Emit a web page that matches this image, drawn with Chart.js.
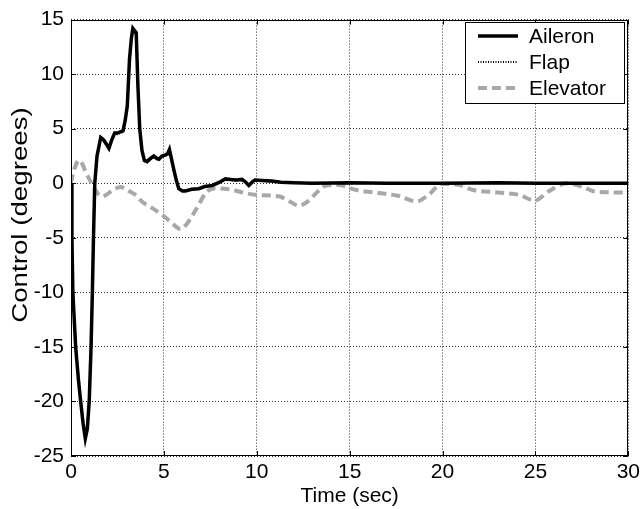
<!DOCTYPE html>
<html>
<head>
<meta charset="utf-8">
<script src="https://cdn.jsdelivr.net/npm/chart.js@4"></script>
<style>
  body { margin: 0; background: #fff; }
  #wrap { width: 644px; height: 509px; }
</style>
</head>
<body>
<div id="wrap"><canvas id="chart1"></canvas></div>
<script>
// control surface deflections vs time

var aileronTime = [0, 0.05, 0.1, 0.25, 0.4, 0.52, 0.65, 0.77, 0.88, 0.98, 1.08, 1.15, 1.21, 1.28, 1.4, 1.6, 1.75, 1.9, 2.04, 2.2, 2.35, 2.5, 2.65, 2.8, 2.92, 3.03, 3.15, 3.25, 3.33, 3.42, 3.51, 3.6, 3.7, 3.82, 3.95, 4.1, 4.3, 4.46, 4.6, 4.73, 4.9, 5.09, 5.2, 5.3, 5.4, 5.54, 5.68, 5.8, 6.0, 6.16, 6.5, 6.88, 7.2, 7.6, 8.0, 8.3, 8.6, 8.9, 9.2, 9.4, 9.57, 9.75, 9.9, 10.3, 10.8, 11.3, 12, 13, 15, 17, 20, 23, 25, 27, 30];
var aileron = [0, -5, -10, -15, -18, -20, -22, -23.4, -22.5, -20, -15, -10, -5, 0, 2.5, 4.2, 4.0, 3.6, 3.2, 4.0, 4.6, 4.6, 4.7, 4.8, 5.8, 7.1, 11.4, 13.3, 14.2, 14.0, 13.8, 9.0, 5.0, 3.0, 2.1, 2.0, 2.3, 2.5, 2.3, 2.2, 2.5, 2.6, 2.7, 3.1, 2.3, 1.2, 0.2, -0.5, -0.7, -0.7, -0.55, -0.5, -0.3, -0.2, 0.1, 0.4, 0.35, 0.3, 0.35, 0.1, -0.2, 0.1, 0.3, 0.25, 0.2, 0.1, 0.05, 0, 0.05, 0, 0, 0.05, 0, 0, 0];
var flap = [0, -4.6, -9.5, -14.6, -17.6, -19.8, -21.7, -23.0, -22.2, -19.6, -14.7, -9.8, -4.8, 0, 2.4, 4.1, 3.9, 3.5, 3.1, 3.9, 4.5, 4.5, 4.6, 4.7, 5.6, 6.9, 11.1, 13.0, 13.9, 13.8, 13.5, 8.8, 4.9, 2.9, 2.0, 1.9, 2.2, 2.4, 2.2, 2.1, 2.4, 2.5, 2.6, 3.0, 2.2, 1.1, 0.2, -0.45, -0.65, -0.65, -0.5, -0.45, -0.3, -0.2, 0.1, 0.35, 0.3, 0.25, 0.3, 0.1, -0.15, 0.1, 0.25, 0.2, 0.15, 0.1, 0.05, 0, 0, 0, 0, 0, 0, 0, 0];

var elevatorTime = [0, 0.07, 0.2, 0.43, 0.6, 0.8, 1.06, 1.3, 1.5, 1.68, 1.86, 2.2, 2.67, 3.1, 3.5, 3.83, 4.3, 4.91, 5.4, 5.9, 6.2, 6.52, 6.9, 7.24, 7.78, 8.2, 8.67, 9.03, 9.93, 11.18, 11.8, 12.26, 12.8, 13.2, 13.69, 14.4, 15.3, 16.56, 17.6, 18.6, 19.25, 19.96, 20.86, 21.6, 23, 24.1, 24.98, 25.7, 26.68, 27.5, 28.2, 30];
var elevator = [0, 0.6, 1.4, 2.1, 1.8, 1.0, 0.15, -0.6, -1.06, -1.2, -1.1, -0.7, -0.35, -0.7, -1.1, -1.7, -2.2, -2.9, -3.6, -4.2, -3.8, -3.0, -1.9, -0.9, -0.45, -0.5, -0.6, -0.75, -1.06, -1.2, -1.7, -2.06, -1.6, -0.9, -0.24, -0.15, -0.6, -0.9, -1.15, -1.67, -1.06, -0.06, -0.15, -0.6, -0.85, -1.06, -1.58, -0.76, 0, -0.3, -0.76, -0.85];

var xTicks = [0, 5, 10, 15, 20, 25, 30];
var yTicks = [-25, -20, -15, -10, -5, 0, 5, 10, 15];
var seriesNames = ['Aileron', 'Flap', 'Elevator'];

var FONT = '"Liberation Sans", Arial, sans-serif';

function pts(t, v) {
  return t.map(function (tt, i) { return { x: tt, y: v[i] }; });
}

// box, inward ticks, y label and legend drawn on top
var matlabFrame = {
  id: 'matlabFrame',
  afterDatasetsDraw: function (chart) {
    var ctx = chart.ctx, a = chart.chartArea;
    var sx = chart.scales.x, sy = chart.scales.y;
    ctx.save();
    ctx.strokeStyle = '#000';
    ctx.lineWidth = 1;
    ctx.setLineDash([]);
    ctx.strokeRect(Math.round(a.left) + 0.5, Math.round(a.top) + 0.5,
      Math.round(a.right - a.left) - 1, Math.round(a.bottom - a.top) - 1);
    ctx.beginPath();
    xTicks.forEach(function (v) {
      var px = Math.round(sx.getPixelForValue(v)) + 0.5;
      ctx.moveTo(px, a.bottom); ctx.lineTo(px, a.bottom - 5);
      ctx.moveTo(px, a.top); ctx.lineTo(px, a.top + 5);
    });
    yTicks.forEach(function (v) {
      var py = Math.round(sy.getPixelForValue(v)) + 0.5;
      ctx.moveTo(a.left, py); ctx.lineTo(a.left + 5, py);
      ctx.moveTo(a.right, py); ctx.lineTo(a.right - 5, py);
    });
    ctx.stroke();

    // legend
    var lx = 465, ly = 22, lw = 159, lh = 81;
    ctx.fillStyle = '#fff';
    ctx.fillRect(lx, ly, lw, lh);
    ctx.strokeRect(lx + 0.5, ly + 0.5, lw, lh);
    chart.data.datasets.forEach(function (ds, i) {
      var yy = 36 + i * 26;
      ctx.save();
      ctx.strokeStyle = ds.borderColor;
      ctx.lineWidth = ds.borderWidth;
      ctx.setLineDash(ds.borderDash || []);
      ctx.beginPath();
      ctx.moveTo(478, yy); ctx.lineTo(518, yy);
      ctx.stroke();
      ctx.restore();
      ctx.fillStyle = '#000';
      ctx.font = '21px ' + FONT;
      ctx.textBaseline = 'middle';
      ctx.textAlign = 'left';
      ctx.fillText(seriesNames[i], 529, yy + 1);
    });

    // y axis title
    ctx.translate(21, 215);
    ctx.rotate(-Math.PI / 2);
    ctx.scale(1.26, 1);
    ctx.fillStyle = '#000';
    ctx.font = '22px ' + FONT;
    ctx.textAlign = 'center';
    ctx.textBaseline = 'middle';
    ctx.fillText('Control (degrees)', 0, 0);
    ctx.restore();
  }
};

var graph = document.getElementById('chart1');

var myChart = new Chart(graph, {
  type: 'line',
  data: {
    datasets: [{
      label: seriesNames[0],
      data: pts(aileronTime, aileron),
      borderColor: '#000',
      borderWidth: 3.5,
      pointRadius: 0,
      tension: 0,
      order: 0
    }, {
      label: seriesNames[1],
      data: pts(aileronTime, flap),
      borderColor: '#000',
      borderWidth: 2,
      borderDash: [1, 1.5],
      pointRadius: 0,
      tension: 0,
      order: 1
    }, {
      label: seriesNames[2],
      data: pts(elevatorTime, elevator),
      borderColor: '#a8a8a8',
      borderWidth: 4,
      borderDash: [9, 5],
      pointRadius: 0,
      cubicInterpolationMode: 'monotone',
      order: 2
    }]
  }, // ends data
  options: {
    responsive: true,
    maintainAspectRatio: false,
    animation: false,
    layout: { padding: { left: 0, top: 15, right: 14, bottom: 0 } },
    plugins: {
      legend: { display: false },
      tooltip: { enabled: false }
    },
    scales: {
      x: {
        type: 'linear',
        min: 0,
        max: 30,
        afterFit: function (s) { s.height = 53; },
        afterBuildTicks: function (s) { s.ticks = xTicks.map(function (v) { return { value: v }; }); },
        grid: { color: '#333', lineWidth: 1, drawTicks: false },
        border: { display: false, dash: [1, 2] },
        ticks: { color: '#000', font: { family: FONT, size: 21 }, padding: 4, maxRotation: 0 },
        title: { display: true, text: 'Time (sec)', color: '#000', font: { family: FONT, size: 21 }, padding: 0 }
      },
      y: {
        min: -25,
        max: 15,
        afterFit: function (s) { s.width = 71; },
        afterBuildTicks: function (s) { s.ticks = yTicks.map(function (v) { return { value: v }; }); },
        grid: { color: '#333', lineWidth: 1, drawTicks: false },
        border: { display: false, dash: [1, 2] },
        ticks: { color: '#000', font: { family: FONT, size: 21 }, padding: 7 }
      }
    }
  }, // ends options
  plugins: [matlabFrame]
}); // ends the entire variable
</script>
</body>
</html>
